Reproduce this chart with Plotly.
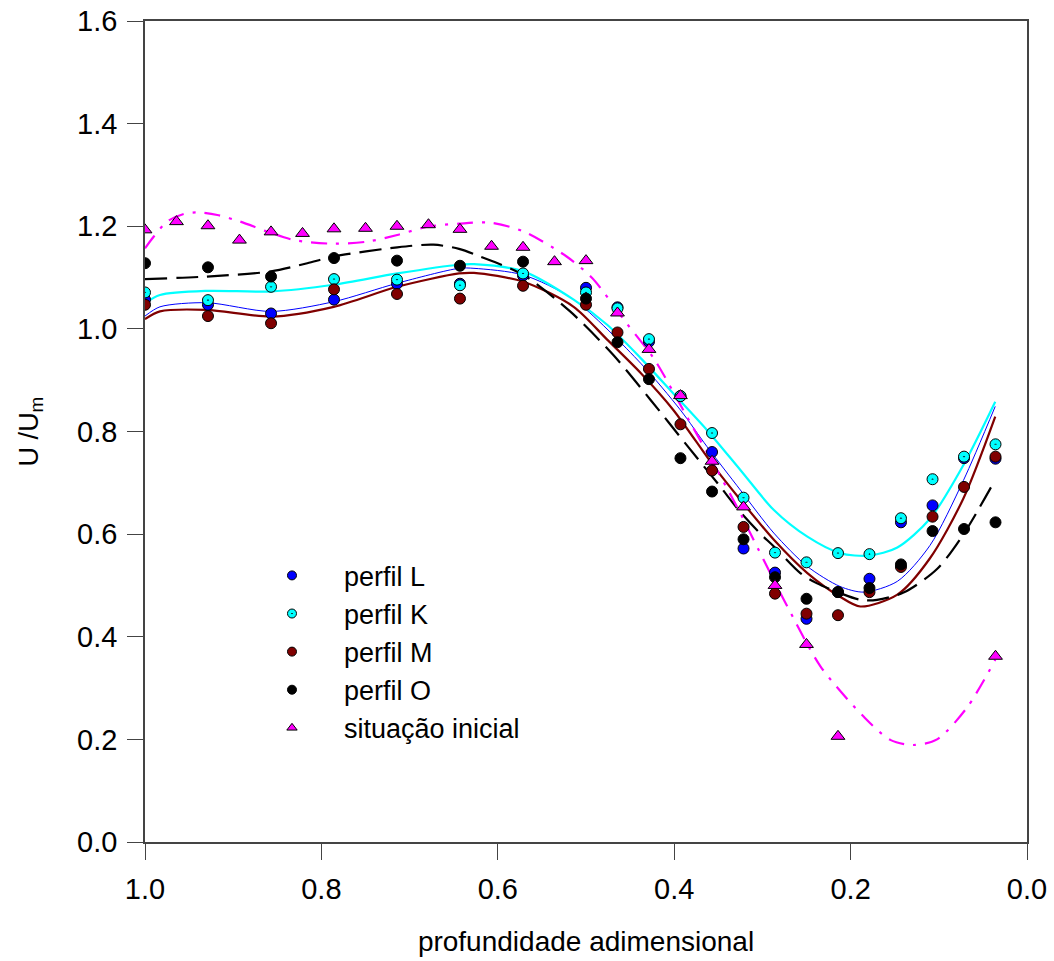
import plotly.graph_objects as go

# ---------------- data ----------------
# x positions: dimensionless depth, k/28 steps
depth_circles = [1.0, 0.9286, 0.8571, 0.7857, 0.7143, 0.6429, 0.5714, 0.5,
                 0.4643, 0.4286, 0.3929, 0.3571, 0.3214, 0.2857, 0.25, 0.2143,
                 0.1786, 0.1429, 0.1071, 0.0714, 0.0357]
depth_initial = [1.0, 0.9643, 0.9286, 0.8929, 0.8571, 0.8214, 0.7857, 0.75,
                 0.7143, 0.6786, 0.6429, 0.6071, 0.5714, 0.5357, 0.5, 0.4643,
                 0.4286, 0.3929, 0.3571, 0.3214, 0.2857, 0.25, 0.2143, 0.0357]

perfil_L = [1.057, 1.047, 1.030, 1.057, 1.088, 1.088, 1.104, 1.080,
            1.042, 0.975, 0.869, 0.760, 0.572, 0.525, 0.435, 0.487,
            0.513, 0.623, 0.656, 0.748, 0.747]
perfil_K = [1.071, 1.056, 1.082, 1.097, 1.096, 1.085, 1.108, 1.071,
            1.040, 0.980, 0.869, 0.797, 0.671, 0.564, 0.545, 0.563,
            0.561, 0.631, 0.707, 0.751, 0.775]
perfil_M = [1.047, 1.025, 1.011, 1.077, 1.068, 1.059, 1.084, 1.047,
            0.993, 0.922, 0.814, 0.724, 0.614, 0.484, 0.445, 0.442,
            0.487, 0.536, 0.634, 0.692, 0.751]
perfil_O = [1.128, 1.120, 1.102, 1.138, 1.133, 1.123, 1.131, 1.059,
            0.974, 0.902, 0.748, 0.683, 0.590, 0.516, 0.474, 0.487,
            0.495, 0.541, 0.606, 0.610, 0.623]
situacao_inicial = [1.193, 1.209, 1.201, 1.173, 1.189, 1.186, 1.195, 1.196,
                    1.200, 1.203, 1.194, 1.161, 1.159, 1.131, 1.133, 1.031,
                    0.960, 0.870, 0.742, 0.653, 0.500, 0.385, 0.206, 0.362]

# fitted curves
fit_L_x = [1.0, 0.983, 0.930, 0.857, 0.786, 0.714, 0.644, 0.627, 0.571, 0.514,
           0.438, 0.393, 0.363, 0.325, 0.287, 0.249, 0.212, 0.185, 0.147,
           0.110, 0.072, 0.036]
fit_L_y = [1.025, 1.043, 1.051, 1.034, 1.053, 1.089, 1.118, 1.118, 1.105, 1.057,
           0.933, 0.842, 0.771, 0.686, 0.602, 0.537, 0.498, 0.487, 0.508,
           0.578, 0.705, 0.849]

fit_K_x = [1.0, 0.983, 0.930, 0.857, 0.786, 0.714, 0.644, 0.627, 0.571, 0.514,
           0.476, 0.438, 0.401, 0.363, 0.325, 0.287, 0.249, 0.212, 0.179,
           0.147, 0.110, 0.072, 0.036]
fit_K_y = [1.050, 1.066, 1.074, 1.073, 1.086, 1.108, 1.125, 1.126, 1.112, 1.057,
           1.008, 0.943, 0.874, 0.803, 0.725, 0.647, 0.595, 0.563, 0.558,
           0.574, 0.630, 0.735, 0.858]

fit_M_x = [1.0, 0.983, 0.930, 0.857, 0.786, 0.714, 0.644, 0.627, 0.571, 0.514,
           0.476, 0.438, 0.401, 0.355, 0.325, 0.287, 0.249, 0.212, 0.189,
           0.147, 0.110, 0.072, 0.036]
fit_M_y = [1.019, 1.034, 1.037, 1.024, 1.043, 1.082, 1.108, 1.109, 1.092, 1.043,
           0.979, 0.914, 0.842, 0.732, 0.667, 0.589, 0.524, 0.478, 0.459,
           0.482, 0.553, 0.670, 0.829]

fit_O_x = [1.0, 0.930, 0.857, 0.816, 0.786, 0.714, 0.673, 0.644, 0.620, 0.571,
           0.518, 0.469, 0.427, 0.386, 0.348, 0.326, 0.303, 0.287, 0.257,
           0.238, 0.212, 0.189, 0.170, 0.140, 0.102, 0.072, 0.036]
fit_O_y = [1.097, 1.102, 1.112, 1.128, 1.141, 1.159, 1.164, 1.156, 1.141, 1.105,
           1.034, 0.949, 0.862, 0.774, 0.693, 0.645, 0.602, 0.576, 0.524,
           0.504, 0.485, 0.472, 0.472, 0.486, 0.532, 0.600, 0.706]

fit_I_x = [1.0, 0.990, 0.975, 0.956, 0.941, 0.918, 0.892, 0.862, 0.831, 0.786,
           0.748, 0.714, 0.680, 0.644, 0.608, 0.571, 0.522, 0.493, 0.454,
           0.423, 0.401, 0.386, 0.359, 0.329, 0.310, 0.287, 0.272, 0.234,
           0.185, 0.155, 0.129, 0.102, 0.068, 0.036]
fit_I_y = [1.157, 1.180, 1.209, 1.224, 1.227, 1.222, 1.209, 1.190, 1.173, 1.166,
           1.170, 1.183, 1.199, 1.205, 1.207, 1.190, 1.141, 1.099, 1.011,
           0.942, 0.877, 0.830, 0.748, 0.654, 0.589, 0.510, 0.460, 0.342,
           0.244, 0.199, 0.189, 0.200, 0.262, 0.355]

x_ticks = [1.0, 0.8, 0.6, 0.4, 0.2, 0.0]
y_ticks = [0.0, 0.2, 0.4, 0.6, 0.8, 1.0, 1.2, 1.4, 1.6]

FONT = "Arial, Liberation Sans, sans-serif"

series = [
    ("perfil L", depth_circles, perfil_L, fit_L_x, fit_L_y, "#0000FF", "circle",
     dict(color="#0000FF", width=1, dash="solid")),
    ("perfil K", depth_circles, perfil_K, fit_K_x, fit_K_y, "#00FFFF", "circle-dot",
     dict(color="#00FFFF", width=2.2, dash="solid")),
    ("perfil M", depth_circles, perfil_M, fit_M_x, fit_M_y, "#800000", "circle",
     dict(color="#800000", width=2.2, dash="solid")),
    ("perfil O", depth_circles, perfil_O, fit_O_x, fit_O_y, "#000000", "circle",
     dict(color="#000000", width=2.2, dash="22px,9px")),
    ("situação inicial", depth_initial, situacao_inicial, fit_I_x, fit_I_y,
     "#FF00FF", "triangle-up",
     dict(color="#FF00FF", width=2.2, dash="16px,9px,3px,9px")),
]

fig = go.Figure()

for name, xs, ys, fx, fy, col, sym, line in series:
    fig.add_trace(go.Scatter(x=fx, y=fy, mode="lines",
                             line=dict(shape="spline", smoothing=0.8, **line),
                             showlegend=False, hoverinfo="skip"))

for name, xs, ys, fx, fy, col, sym, line in series:
    big = 12 if sym == "triangle-up" else 11
    fig.add_trace(go.Scatter(
        x=xs, y=ys, mode="markers", name=name, showlegend=False,
        marker=dict(symbol=sym, size=big, color=col,
                    line=dict(color="#000000", width=1)),
    ))

# legend entries (smaller symbols as in the reference legend)
for name, xs, ys, fx, fy, col, sym, line in series:
    fig.add_trace(go.Scatter(
        x=[None], y=[None], mode="markers", name=name,
        marker=dict(symbol=sym, size=9, color=col,
                    line=dict(color="#000000", width=1)),
    ))

fig.update_layout(
    width=1054, height=961,
    margin=dict(l=145, r=27, t=21, b=119),
    plot_bgcolor="white", paper_bgcolor="white",
    font=dict(family=FONT, size=29, color="#000000"),
    showlegend=True,
    legend=dict(x=0.1077, y=0.354, xanchor="left", yanchor="top",
                bgcolor="rgba(0,0,0,0)", font=dict(size=27, family=FONT),
                itemwidth=94, tracegroupgap=0),
)
fig.update_xaxes(
    range=[1.0, 0.0], tickvals=x_ticks, ticktext=[f"{v:.1f}" for v in x_ticks],
    showgrid=False, zeroline=False, showline=True, linecolor="#444444",
    linewidth=1.5, mirror=True, ticks="outside", ticklen=16, tickwidth=1,
    tickcolor="#444444", ticklabelstandoff=4, automargin=False,
    tickfont=dict(size=29, family=FONT),
    title=dict(text="profundidade adimensional", standoff=28,
               font=dict(size=28, family=FONT)),
)
fig.update_yaxes(
    range=[0.0, 1.6], tickvals=y_ticks, ticktext=[f"{v:.1f}" for v in y_ticks],
    showgrid=False, zeroline=False, showline=True, linecolor="#444444",
    linewidth=1.5, mirror=True, ticks="outside", ticklen=16, tickwidth=1,
    tickcolor="#444444", ticklabelstandoff=4, automargin=False,
    tickfont=dict(size=29, family=FONT),
    title=dict(text="U /U<sub>m</sub>", standoff=31,
               font=dict(size=27, family=FONT)),
)

fig.write_html("out.html", config={"displayModeBar": False},
               post_script="document.body.style.margin='0px';")
